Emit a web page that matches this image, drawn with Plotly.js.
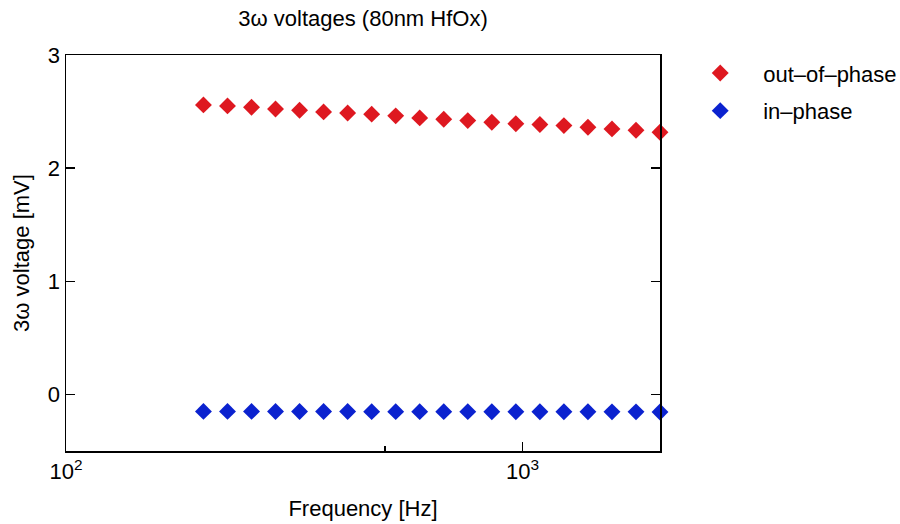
<!DOCTYPE html>
<html>
<head>
<meta charset="utf-8">
<script src="https://cdn.plot.ly/plotly-3.0.1.min.js"></script>
<style>body{margin:0;background:#fff;} #chart{width:900px;height:524px;}</style>
</head>
<body>
<div id="chart"></div>
<script>
const frequency = [200, 225.8, 254.9, 287.7, 324.8, 366.6, 413.9, 467.2, 527.4, 595.3,
                   672.0, 758.6, 856.4, 966.7, 1091.3, 1231.9, 1390.6, 1569.8, 1772.1, 2000];
const outOfPhase = [2.559, 2.550, 2.538, 2.523, 2.512, 2.497, 2.488, 2.477, 2.462, 2.444,
                    2.432, 2.420, 2.406, 2.393, 2.386, 2.376, 2.362, 2.347, 2.335, 2.317];
const inPhase = [-0.150, -0.150, -0.150, -0.151, -0.151, -0.151, -0.151, -0.152, -0.152, -0.152,
                 -0.152, -0.152, -0.153, -0.153, -0.153, -0.153, -0.153, -0.154, -0.154, -0.155];
const seriesNames = ['out\u2013of\u2013phase', 'in\u2013phase'];
const xTickVals = [100, 1000];
const xTickText = ['10<sup>2</sup>', '10<sup>3</sup>'];
const xMinorVals = [500];
const yTickVals = [0, 1, 2, 3];

const font = 'Liberation Sans, Arial, Helvetica, sans-serif';
const FS = 22;
const traces = [
  {x: frequency, y: outOfPhase, name: seriesNames[0], type: 'scatter', mode: 'markers',
   legendgroup: 'a', cliponaxis: false,
   marker: {symbol: 'diamond', size: 13, color: '#de1820'}},
  {x: frequency, y: inPhase, name: seriesNames[1], type: 'scatter', mode: 'markers',
   legendgroup: 'b', cliponaxis: false,
   marker: {symbol: 'diamond', size: 13, color: '#0b22cf'}}
];
const layout = {
  width: 900, height: 524,
  margin: {l: 66, r: 240, t: 55, b: 73, autoexpand: false},
  paper_bgcolor: '#fff', plot_bgcolor: '#fff',
  font: {family: font, color: '#000', size: FS},
  title: {text: '3\u03c9 voltages (80nm HfOx)', x: 0.5, xref: 'paper', y: 0.966, yanchor: 'middle',
          font: {family: font, size: FS, color: '#000'}},
  xaxis: {
    type: 'log', range: [2, Math.log10(2000)],
    tickmode: 'array', tickvals: xTickVals, ticktext: xTickText,
    ticks: 'inside', ticklen: 9, tickwidth: 1.5, tickcolor: '#000',
    minor: {tickvals: xMinorVals, ticks: 'inside', ticklen: 5, tickwidth: 1.5, tickcolor: '#000'},
    showline: true, linecolor: '#000', linewidth: 1.5, mirror: true,
    showgrid: false, zeroline: false,
    tickfont: {family: font, size: FS},
    title: {text: 'Frequency [Hz]', standoff: 17, font: {family: font, size: FS}}
  },
  yaxis: {
    range: [-0.5, 3],
    tickmode: 'array', tickvals: yTickVals,
    ticks: 'inside', ticklen: 9, tickwidth: 1.5, tickcolor: '#000',
    showline: true, linecolor: '#000', linewidth: 1.5, mirror: 'ticks',
    showgrid: false, zeroline: false,
    tickfont: {family: font, size: FS},
    title: {text: '3\u03c9 voltage [mV]', standoff: 12, font: {family: font, size: FS}}
  },
  showlegend: true,
  legend: {x: 1.029, xref: 'paper', xanchor: 'left', y: 1.007, yanchor: 'top',
           font: {family: font, size: FS, color: '#000'},
           itemwidth: 76, traceorder: 'grouped', tracegroupgap: 6,
           bgcolor: 'rgba(0,0,0,0)'}
};
Plotly.newPlot('chart', traces, layout, {displayModeBar: false, staticPlot: true});
</script>
</body>
</html>
